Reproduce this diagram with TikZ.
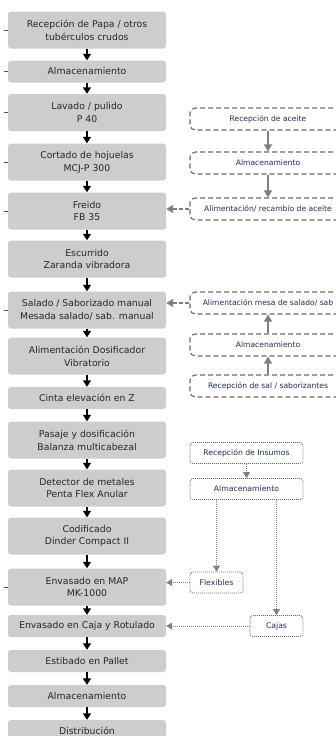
\documentclass[tikz,border=0pt]{standalone}
\usepackage{fontspec}
\setmainfont{DejaVu Sans}
\usepackage{tikz}
\usetikzlibrary{arrows.meta}

\definecolor{grisproceso}{HTML}{CDCDCD}
\definecolor{grisborde}{HTML}{6A6A6A}
\definecolor{grisflecha}{HTML}{808080}
\definecolor{textoaux}{HTML}{1F2D55}

\begin{document}
\begin{tikzpicture}[x=1pt, y=-1pt,
    proceso/.style={fill=grisproceso, rounded corners=3pt, minimum width=158pt,
        minimum height=22pt, inner sep=1pt, align=center, text=black!85,
        font=\fontsize{9.3}{12.8}\selectfont},
    doble/.style={minimum height=37pt},
    externo/.style={draw=grisborde, line width=1.1pt, dash pattern=on 5pt off 3pt,
        rounded corners=5pt, fill=white, minimum width=156pt, minimum height=22pt,
        inner sep=1pt, text=textoaux, font=\fontsize{7.6}{9}\selectfont},
    insumo/.style={draw=grisborde, line width=0.8pt, dash pattern=on 1pt off 1pt,
        rounded corners=3pt, fill=white, minimum height=21pt, inner sep=1pt,
        text=textoaux, font=\fontsize{7.7}{9}\selectfont},
    flecha/.style={-{Triangle[width=8pt,length=6.5pt]}, line width=1.4pt, black},
    flechagris/.style={-{Triangle[width=8pt,length=7pt]}, line width=1.3pt, grisflecha},
    flechapunto/.style={-{Triangle[width=7pt,length=6pt]}, line width=0.9pt,
        grisflecha, dash pattern=on 1pt off 1pt},
    marca/.style={line width=0.7pt, black!70}]

    % 1. Marco de la figura
    \useasboundingbox (0,0) rectangle (336,736);
    \fill[white] (0,0) rectangle (336,736);
    \clip (0,0) rectangle (336,736);

    % 2. Etapas del proceso (columna principal)
    \node[proceso, doble] (recepcion) at (87,30) {Recepción de Papa / otros\\tubérculos crudos};
    \node[proceso] (almacen1) at (87,71.5) {Almacenamiento};
    \node[proceso, doble] (lavado) at (87,112.5) {Lavado / pulido\\P 40};
    \node[proceso, doble] (cortado) at (87,162) {Cortado de hojuelas\\MCJ-P 300};
    \node[proceso, doble] (freido) at (87,211) {Freido\\FB 35};
    \node[proceso, doble] (escurrido) at (87,259) {Escurrido\\Zaranda vibradora};
    \node[proceso, doble] (salado) at (87,310) {Salado / Saborizado manual\\Mesada salado/ sab. manual};
    \node[proceso, doble] (dosificador) at (87,356) {Alimentación Dosificador\\Vibratorio};
    \node[proceso] (cinta) at (87,398) {Cinta elevación en Z};
    \node[proceso, doble] (pasaje) at (87,440) {Pasaje y dosificación\\Balanza multicabezal};
    \node[proceso, doble] (detector) at (87,488) {Detector de metales\\Penta Flex Anular};
    \node[proceso, doble] (codificado) at (87,536) {Codificado\\Dinder Compact II};
    \node[proceso, doble] (envmap) at (87,587) {Envasado en MAP\\MK-1000};
    \node[proceso] (envcaja) at (87,626) {Envasado en Caja y Rotulado};
    \node[proceso] (estibado) at (87,661) {Estibado en Pallet};
    \node[proceso] (almacen2) at (87,696) {Almacenamiento};
    \node[proceso] (distrib) at (87,731) {Distribución};

    % 3. Flechas entre etapas
    \foreach \a/\b in {recepcion/almacen1, almacen1/lavado, lavado/cortado,
        cortado/freido, freido/escurrido, escurrido/salado, salado/dosificador,
        dosificador/cinta, cinta/pasaje, pasaje/detector, detector/codificado,
        codificado/envmap, envmap/envcaja, envcaja/estibado, estibado/almacen2,
        almacen2/distrib} {
        \draw[flecha] (\a) -- (\b);
    }

    % 4. Marcas a la izquierda
    \foreach \n in {recepcion, almacen1, lavado, cortado, freido, salado, envmap} {
        \draw[marca] (\n.west) -- ++(-4,0);
    }

    % 5. Linea de aceite (la caja sigue fuera del borde derecho)
    \node[externo] (recaceite) at (268,119) {Recepción de aceite};
    \node[externo] (almaceite) at (268,163) {Almacenamiento};
    \node[externo] (alimaceite) at (268,209) {Alimentación/ recambio de aceite};
    \draw[flechagris] (recaceite) -- (almaceite);
    \draw[flechagris] (almaceite) -- (alimaceite);
    \draw[flechagris, dash pattern=on 4pt off 2pt] (alimaceite.west) -- (alimaceite.west -| freido.east);

    % 6. Linea de sal / saborizantes
    \node[externo] (alimsal) at (268,303) {Alimentación mesa de salado/ sab};
    \node[externo] (almsal) at (268,345) {Almacenamiento};
    \node[externo] (recsal) at (268,386) {Recepción de sal / saborizantes};
    \draw[flechagris] (recsal) -- (almsal);
    \draw[flechagris] (almsal) -- (alimsal);
    \draw[flechagris, dash pattern=on 4pt off 2pt] (alimsal.west) -- (alimsal.west -| salado.east);

    % 7. Insumos de envasado
    \node[insumo, minimum width=113pt] (recinsumos) at (246.5,453) {Recepción de Insumos};
    \node[insumo, minimum width=113pt] (alminsumos) at (246.5,489) {Almacenamiento};
    \node[insumo, minimum width=53pt] (flexibles) at (216.5,582.5) {Flexibles};
    \node[insumo, minimum width=53pt] (cajas) at (276.5,626) {Cajas};
    \draw[flechapunto] (recinsumos) -- (alminsumos);
    \draw[flechapunto] (flexibles.north |- alminsumos.south) -- (flexibles.north);
    \draw[flechapunto] (cajas.north |- alminsumos.south) -- (cajas.north);
    \draw[flechapunto] (flexibles.west) -- (flexibles.west -| envmap.east);
    \draw[flechapunto] (cajas.west) -- (cajas.west -| envcaja.east);

\end{tikzpicture}
\end{document}
